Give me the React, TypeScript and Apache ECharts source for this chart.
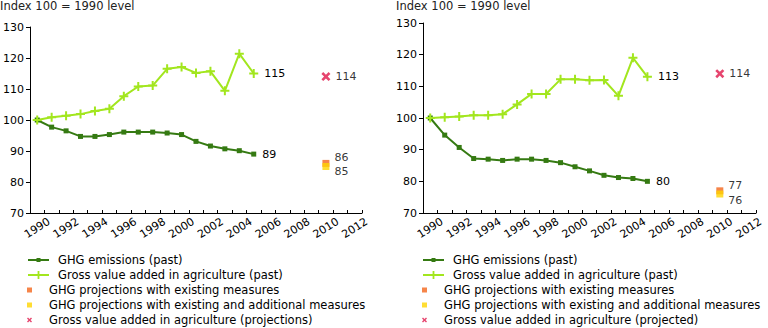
import React, { useEffect, useRef } from "react";
import * as echarts from "echarts";

const years = ["1990","1991","1992","1993","1994","1995","1996","1997","1998","1999","2000","2001","2002","2003","2004","2005","2006","2007","2008","2009","2010","2011","2012"];

// Left chart
const ghgLeft = [100, 97.7, 96.5, 94.7, 94.7, 95.3, 96.1, 96.1, 96.1, 95.8, 95.3, 93.1, 91.6, 90.7, 90.1, 89];
const gvaLeft = [100, 100.9, 101.4, 101.9, 102.9, 103.6, 107.7, 110.8, 111.1, 116.5, 117.1, 115.2, 115.7, 109.4, 121.4, 115];
const projLeftExisting = 86;
const projLeftAdditional = 85;
const projLeftGva = 114;

// Right chart
const ghgRight = [100, 94.6, 90.7, 87.2, 87.0, 86.6, 87.0, 87.0, 86.6, 85.9, 84.6, 83.3, 81.9, 81.2, 80.9, 80];
const gvaRight = [100, 100.2, 100.5, 100.9, 100.9, 101.2, 104.3, 107.6, 107.6, 112.2, 112.2, 111.9, 112.0, 107.0, 119.0, 113];
const projRightExisting = 77;
const projRightAdditional = 76;
const projRightGva = 114;

const projYear = "2010";

const NAME_GHG = "GHG emissions (past)";
const NAME_GVA = "Gross value added in agriculture (past)";
const NAME_EX = "GHG projections with existing measures";
const NAME_ADD = "GHG projections with existing and additional measures";
const NAME_GVA_PROJ_L = "Gross value added in agriculture (projections)";
const NAME_GVA_PROJ_R = "Gross value added in agriculture (projected)";

const FONT = "DejaVu Sans";
const DARK = "#357a12";
const LIGHT = "#a2e61e";
const ORANGE = "#f4661b";
const YELLOW = "#ffd500";
const RED = "#e0174a";
const PLUS = "path://M3.5,0H5.5V3.5H9V5.5H5.5V9H3.5V5.5H0V3.5H3.5Z";
const CROSS = "path://M0,2L2,0L5,3L8,0L10,2L7,5L10,8L8,10L5,7L2,10L0,8L3,5Z";
const SQUARE = "path://M0,0H10V10H0Z";

function lastLabeled(arr: number[]) {
  return arr.map((v, i) =>
    i === arr.length - 1
      ? { value: v, label: { show: true, position: "right", distance: 6, formatter: (p: any) => String(Math.round(p.value)) } }
      : v
  );
}

function labelStyle(offsetY: number) {
  return {
    show: true,
    position: "right",
    distance: 5,
    offset: [0, offsetY],
    color: "#000",
    fontSize: 11,
    fontFamily: FONT,
    formatter: (p: any) => String(p.value[1]),
  };
}

function makeSeries(idx: number, ghg: number[], gva: number[], ex: number, add: number, gv: number, gvName: string, exOff: number, addOff: number) {
  const base = { xAxisIndex: idx, yAxisIndex: idx };
  const lineLabel = { color: "#000", fontSize: 11, fontFamily: FONT };
  return [
    {
      ...base,
      name: NAME_GHG,
      type: "line",
      data: lastLabeled(ghg),
      symbol: "rect",
      symbolSize: 5,
      showAllSymbol: true,
      itemStyle: { color: DARK },
      lineStyle: { color: DARK, width: 2 },
      label: lineLabel,
    },
    {
      ...base,
      name: NAME_GVA,
      type: "line",
      data: lastLabeled(gva),
      symbol: PLUS,
      symbolSize: 9,
      showAllSymbol: true,
      itemStyle: { color: LIGHT },
      lineStyle: { color: LIGHT, width: 2 },
      label: lineLabel,
    },
    {
      ...base,
      name: NAME_EX,
      type: "scatter",
      data: [[projYear, ex]],
      symbol: SQUARE,
      symbolKeepAspect: true,
      symbolSize: 7,
      itemStyle: { color: ORANGE },
      label: labelStyle(exOff),
    },
    {
      ...base,
      name: NAME_ADD,
      type: "scatter",
      data: [[projYear, add]],
      symbol: SQUARE,
      symbolKeepAspect: true,
      symbolSize: 7,
      itemStyle: { color: YELLOW },
      label: labelStyle(addOff),
    },
    {
      ...base,
      name: gvName,
      type: "scatter",
      data: [[projYear, gv]],
      symbol: CROSS,
      symbolKeepAspect: true,
      symbolSize: 9,
      itemStyle: { color: RED },
      label: labelStyle(0),
    },
  ];
}

function xAxis(idx: number) {
  return {
    type: "category",
    gridIndex: idx,
    data: years,
    boundaryGap: true,
    axisLine: { lineStyle: { color: "#000", width: 1 } },
    axisTick: { show: true, inside: true, length: 3, interval: 0, lineStyle: { color: "#000" } },
    axisLabel: {
      interval: 1,
      rotate: 32,
      align: "center",
      verticalAlign: "middle",
      margin: 15,
      color: "#000",
      fontSize: 11,
      fontFamily: FONT,
    },
    splitLine: { show: false },
  };
}

function yAxis(idx: number) {
  return {
    type: "value",
    gridIndex: idx,
    min: 70,
    max: 130,
    interval: 10,
    axisLine: { show: true, lineStyle: { color: "#000", width: 1 } },
    axisTick: { show: true, length: 4, lineStyle: { color: "#000" } },
    axisLabel: { margin: 6, color: "#000", fontSize: 11, fontFamily: FONT },
    splitLine: { show: false },
  };
}

function legend(left: number, top: number, itemHeight: number, data: string[]) {
  return {
    orient: "vertical",
    left,
    top,
    itemWidth: 21,
    itemHeight,
    itemGap: 0,
    padding: 0,
    selectedMode: false,
    data,
    textStyle: { color: "#000", fontSize: 11.5, fontFamily: FONT, lineHeight: 15, padding: [0, 0, 0, 4] },
  };
}

function legendsFor(left: number, gvProjName: string) {
  const row0 = 252.5;
  return [
    legend(left, row0, 5, [NAME_GHG]),
    legend(left, row0 + 15, 10, [NAME_GVA]),
    legend(left, row0 + 30, 5, [NAME_EX, NAME_ADD, gvProjName]),
  ];
}

export default function App() {
  const ref = useRef<HTMLDivElement>(null);
  useEffect(() => {
    if (!ref.current) return;
    const chart = echarts.init(ref.current, null, { renderer: "svg" });
    chart.setOption({
      animation: false,
      backgroundColor: "#fff",
      title: [
        { text: "Index 100 = 1990 level", left: 0, top: 0, padding: 0, textStyle: { fontSize: 11.5, fontWeight: "normal", color: "#222", fontFamily: FONT } },
        { text: "Index 100 = 1990 level", left: 396, top: 0, padding: 0, textStyle: { fontSize: 11.5, fontWeight: "normal", color: "#222", fontFamily: FONT } },
      ],
      grid: [
        { left: 28, top: 27, width: 334, height: 186 },
        { left: 423, top: 23, width: 333, height: 190 },
      ],
      xAxis: [xAxis(0), xAxis(1)],
      yAxis: [yAxis(0), yAxis(1)],
      legend: [...legendsFor(27, NAME_GVA_PROJ_L), ...legendsFor(422, NAME_GVA_PROJ_R)],
      series: [
        ...makeSeries(0, ghgLeft, gvaLeft, projLeftExisting, projLeftAdditional, projLeftGva, NAME_GVA_PROJ_L, -6, 5),
        ...makeSeries(1, ghgRight, gvaRight, projRightExisting, projRightAdditional, projRightGva, NAME_GVA_PROJ_R, -5, 6),
      ],
    });
    return () => chart.dispose();
  }, []);
  return <div ref={ref} style={{ position: "absolute", left: 0, top: 0, width: 768, height: 328 }} />;
}
